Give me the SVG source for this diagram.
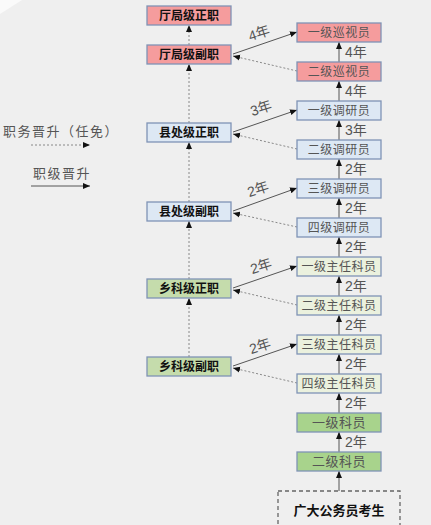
<svg xmlns="http://www.w3.org/2000/svg" width="431" height="525" viewBox="0 0 431 525">
<style>
.bg{fill:#efefef}
.box{stroke:#7f93b5;stroke-width:1.3}
.pink{fill:#f59c9d}
.blue{fill:#dde8f4}
.lgreen{fill:#ebf1de}
.mgreen{fill:#c5dcac}
.green{fill:#a8d38c}
.lt{font-family:"Liberation Sans","Noto Sans CJK SC",sans-serif;font-size:12px;font-weight:bold;fill:#111;text-anchor:middle}
.rt{font-family:"Liberation Sans","Noto Sans CJK SC",sans-serif;font-size:12px;fill:#555;text-anchor:middle;letter-spacing:0.5px}
.yr{font-family:"Liberation Sans","Noto Sans CJK SC",sans-serif;font-size:14px;fill:#555}
.solid{stroke:#555;stroke-width:1;fill:none}
.dot{stroke:#888;stroke-width:1;stroke-dasharray:2,2;fill:none}
.leg{font-family:"Liberation Sans","Noto Sans CJK SC",sans-serif;font-size:13px;fill:#555;letter-spacing:1.5px}
</style>
<defs>
<marker id="ah" markerWidth="8" markerHeight="8" refX="7" refY="4" orient="auto" markerUnits="userSpaceOnUse">
<path d="M0,1 L7,4 L0,7 Z" fill="#111"/>
</marker>
</defs>
<rect class="bg" x="0" y="0" width="431" height="525"/>
<path d="M0,0 L22,0 L0,14 Z" fill="#fafafa"/>

<g id="legend">
<text class="leg" x="3" y="136">职务晋升（任免）</text>
<line class="dot" x1="31" y1="145" x2="90" y2="145" marker-end="url(#ah)"/>
<text class="leg" x="33" y="178">职级晋升</text>
<line class="solid" x1="31" y1="186" x2="90" y2="186" marker-end="url(#ah)"/>
</g>

<g id="connectors">
<line class="dot" x1="189" y1="45" x2="189" y2="25" marker-end="url(#ah)"/>
<line class="dot" x1="189" y1="123" x2="189" y2="64" marker-end="url(#ah)"/>
<line class="dot" x1="189" y1="202" x2="189" y2="142" marker-end="url(#ah)"/>
<line class="dot" x1="189" y1="279" x2="189" y2="221" marker-end="url(#ah)"/>
<line class="dot" x1="189" y1="357" x2="189" y2="298" marker-end="url(#ah)"/>
<line class="solid" x1="339" y1="62" x2="339" y2="42" marker-end="url(#ah)"/>
<line class="solid" x1="339" y1="101" x2="339" y2="81" marker-end="url(#ah)"/>
<line class="solid" x1="339" y1="140" x2="339" y2="120" marker-end="url(#ah)"/>
<line class="solid" x1="339" y1="179" x2="339" y2="159" marker-end="url(#ah)"/>
<line class="solid" x1="339" y1="218" x2="339" y2="198" marker-end="url(#ah)"/>
<line class="solid" x1="339" y1="257" x2="339" y2="237" marker-end="url(#ah)"/>
<line class="solid" x1="339" y1="296" x2="339" y2="276" marker-end="url(#ah)"/>
<line class="solid" x1="339" y1="335" x2="339" y2="315" marker-end="url(#ah)"/>
<line class="solid" x1="339" y1="374" x2="339" y2="354" marker-end="url(#ah)"/>
<line class="solid" x1="339" y1="413" x2="339" y2="393" marker-end="url(#ah)"/>
<line class="solid" x1="339" y1="452" x2="339" y2="432" marker-end="url(#ah)"/>
<line class="solid" x1="339" y1="491" x2="339" y2="471" marker-end="url(#ah)"/>
<line class="solid" x1="233" y1="54" x2="297" y2="32" marker-end="url(#ah)"/>
<line class="solid" x1="233" y1="132" x2="297" y2="110" marker-end="url(#ah)"/>
<line class="solid" x1="233" y1="211" x2="297" y2="188" marker-end="url(#ah)"/>
<line class="solid" x1="233" y1="288" x2="297" y2="266" marker-end="url(#ah)"/>
<line class="solid" x1="233" y1="366" x2="297" y2="344" marker-end="url(#ah)"/>
<line class="dot" x1="297" y1="71" x2="233" y2="56" marker-end="url(#ah)"/>
<line class="dot" x1="297" y1="149" x2="233" y2="134" marker-end="url(#ah)"/>
<line class="dot" x1="297" y1="227" x2="233" y2="213" marker-end="url(#ah)"/>
<line class="dot" x1="297" y1="305" x2="233" y2="290" marker-end="url(#ah)"/>
<line class="dot" x1="297" y1="383" x2="233" y2="368" marker-end="url(#ah)"/>
<text class="yr" x="345" y="57">4年</text>
<text class="yr" x="345" y="96">4年</text>
<text class="yr" x="345" y="135">3年</text>
<text class="yr" x="345" y="174">2年</text>
<text class="yr" x="345" y="213">2年</text>
<text class="yr" x="345" y="252">2年</text>
<text class="yr" x="345" y="291">2年</text>
<text class="yr" x="345" y="330">2年</text>
<text class="yr" x="345" y="369">2年</text>
<text class="yr" x="345" y="408">2年</text>
<text class="yr" x="345" y="447">2年</text>
<text class="yr" x="259" y="38" text-anchor="middle" transform="rotate(-18 259 33)">4年</text>
<text class="yr" x="261" y="113" text-anchor="middle" transform="rotate(-18 261 108)">3年</text>
<text class="yr" x="258" y="194" text-anchor="middle" transform="rotate(-18 258 189)">2年</text>
<text class="yr" x="261" y="271" text-anchor="middle" transform="rotate(-18 261 266)">2年</text>
<text class="yr" x="260" y="351" text-anchor="middle" transform="rotate(-18 260 346)">2年</text>
</g>

<g id="n-tjzz"><rect class="box pink" x="147" y="6" width="84" height="19"/><text class="lt" x="189" y="20">厅局级正职</text></g>
<g id="n-tjfz"><rect class="box pink" x="147" y="45" width="84" height="19"/><text class="lt" x="189" y="59">厅局级副职</text></g>
<g id="n-xczz"><rect class="box blue" x="147" y="123" width="84" height="19"/><text class="lt" x="189" y="137">县处级正职</text></g>
<g id="n-xcfz"><rect class="box blue" x="147" y="202" width="84" height="19"/><text class="lt" x="189" y="216">县处级副职</text></g>
<g id="n-xkzz"><rect class="box mgreen" x="147" y="279" width="84" height="19"/><text class="lt" x="189" y="293">乡科级正职</text></g>
<g id="n-xkfz"><rect class="box mgreen" x="147" y="357" width="84" height="19"/><text class="lt" x="189" y="371">乡科级副职</text></g>

<g id="n-xsy1"><rect class="box pink" x="297" y="23" width="84" height="19"/><text class="rt" x="339" y="37">一级巡视员</text></g>
<g id="n-xsy2"><rect class="box pink" x="297" y="62" width="84" height="19"/><text class="rt" x="339" y="76">二级巡视员</text></g>
<g id="n-dyy1"><rect class="box blue" x="297" y="101" width="84" height="19"/><text class="rt" x="339" y="115">一级调研员</text></g>
<g id="n-dyy2"><rect class="box blue" x="297" y="140" width="84" height="19"/><text class="rt" x="339" y="154">二级调研员</text></g>
<g id="n-dyy3"><rect class="box blue" x="297" y="179" width="84" height="19"/><text class="rt" x="339" y="193">三级调研员</text></g>
<g id="n-dyy4"><rect class="box blue" x="297" y="218" width="84" height="19"/><text class="rt" x="339" y="232">四级调研员</text></g>
<g id="n-zr1"><rect class="box lgreen" x="297" y="257" width="84" height="19"/><text class="rt" x="339" y="271">一级主任科员</text></g>
<g id="n-zr2"><rect class="box lgreen" x="297" y="296" width="84" height="19"/><text class="rt" x="339" y="310">二级主任科员</text></g>
<g id="n-zr3"><rect class="box lgreen" x="297" y="335" width="84" height="19"/><text class="rt" x="339" y="349">三级主任科员</text></g>
<g id="n-zr4"><rect class="box lgreen" x="297" y="374" width="84" height="19"/><text class="rt" x="339" y="388">四级主任科员</text></g>
<g id="n-ky1"><rect class="box green" x="297" y="413" width="84" height="19"/><text class="rt" x="339" y="427" style="font-size:13px">一级科员</text></g>
<g id="n-ky2"><rect class="box green" x="297" y="452" width="84" height="19"/><text class="rt" x="339" y="466" style="font-size:13px">二级科员</text></g>

<g id="n-ks"><rect x="278" y="491" width="122" height="45" fill="none" stroke="#666" stroke-width="1.3" stroke-dasharray="4,3"/><text class="lt" x="339" y="515" style="font-size:13px">广大公务员考生</text></g>
</svg>
